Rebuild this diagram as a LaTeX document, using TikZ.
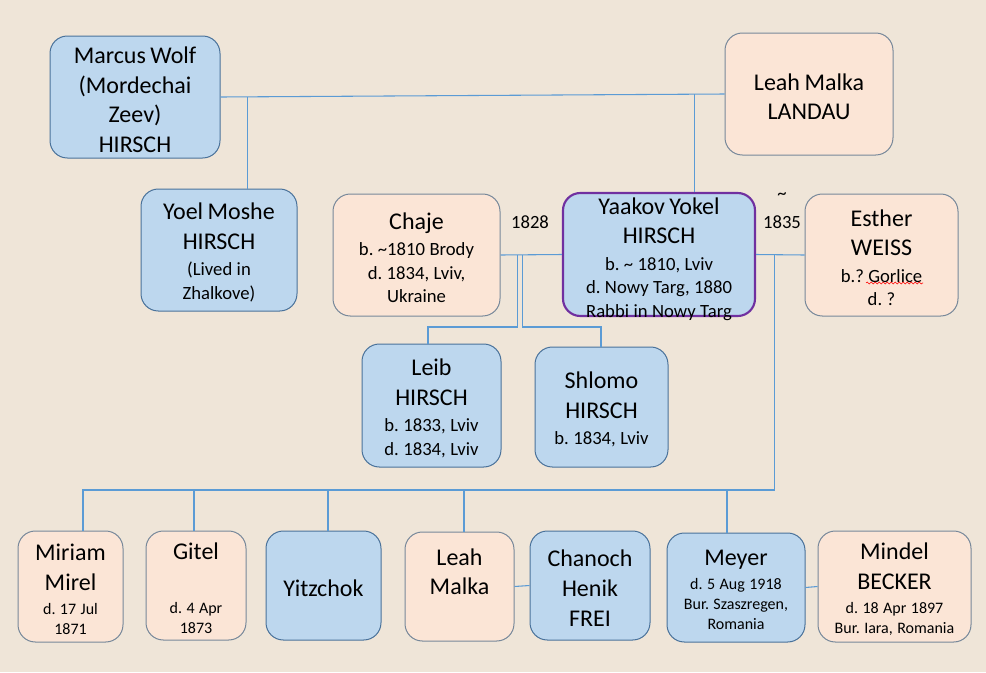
\documentclass[tikz,border=0pt]{standalone}
\usepackage{fontspec}
\setmainfont{Carlito}
\usetikzlibrary{fit,calc,decorations.pathmorphing}
\definecolor{bg}{HTML}{EFE5D8}
\definecolor{bluefill}{HTML}{BDD7EE}
\definecolor{blueedge}{HTML}{4A729A}
\definecolor{peachfill}{HTML}{FBE5D6}
\definecolor{peachedge}{HTML}{77889A}
\definecolor{purpleedge}{HTML}{7030A0}
\definecolor{linkc}{HTML}{5B9BD5}
\newcommand\NM{\fontsize{18}{22.2}\selectfont}
\newcommand\SA{\fontsize{14}{19.8}\selectfont}
\newcommand\SB{\fontsize{14}{17.8}\selectfont}
\newcommand\TA{\fontsize{12}{18}\selectfont}
\newcommand\TB{\fontsize{12}{15}\selectfont}
\frenchspacing
\begin{document}
\begin{tikzpicture}[x=0.75pt,y=-0.75pt,
  person/.style={rounded corners=13pt, inner sep=0pt, line width=0.75pt},
  bluebox/.style={person, fill=bluefill, draw=blueedge},
  peachbox/.style={person, fill=peachfill, draw=peachedge},
  keybox/.style={person, fill=bluefill, draw=purpleedge, line width=1.6pt},
  txt/.style={align=center, inner sep=0pt, text width=135pt, yshift=-2pt, execute at begin node={\parindent=0pt\frenchspacing}},
  lbl/.style={inner sep=0pt, font=\SB},
  link/.style={draw=linkc, line width=0.8pt}]
\path[use as bounding box, fill=bg] (0,0) rectangle (986,672);

% boxes
\node[bluebox, fit={(50,36) (220,158)}] (marcus) {};
\node[peachbox, fit={(725,33) (893,155)}] (landau) {};
\node[bluebox, fit={(141,189) (297,311)}] (yoel) {};
\node[peachbox, fit={(333,194) (500,316)}] (chaje) {};
\node[keybox, fit={(563,193) (755,316)}] (yaakov) {};
\node[peachbox, fit={(805,194) (958,316)}] (esther) {};
\node[bluebox, fit={(362,344) (501,467)}] (leib) {};
\node[bluebox, fit={(535,347) (668,467)}] (shlomo) {};
\node[peachbox, fit={(18,531) (123,642)}] (miriam) {};
\node[peachbox, fit={(146,531) (246,640)}] (gitel) {};
\node[bluebox, fit={(266,531) (381,640)}] (yitz) {};
\node[peachbox, fit={(405,532) (514,641)}] (leah) {};
\node[bluebox, fit={(530,531) (650,640)}] (chanoch) {};
\node[bluebox, fit={(667,533) (805,642)}] (meyer) {};
\node[peachbox, fit={(818,531) (971,642)}] (mindel) {};

% connectors
\coordinate (mw) at ($(marcus.east)!0.053!(landau.west)$);
\coordinate (ll) at ($(marcus.east)!0.941!(landau.west)$);
\draw[link] (marcus.east) -- (landau.west);
\draw[link] (mw) -- (mw |- yoel.north);
\draw[link] (ll) -- (ll |- yaakov.north);

\draw[link] (chaje.east) -- (yaakov.west);
\coordinate (c1) at ($(chaje.east)!0.27!(yaakov.west)$);
\coordinate (c2) at ($(chaje.east)!0.365!(yaakov.west)$);
\coordinate (lb) at (428,327);
\coordinate (sb) at (601,327);
\draw[link] (c1) |- (lb) -- (lb |- leib.north);
\draw[link] (c2) |- (sb) -- (sb |- shlomo.north);

\draw[link] (yaakov.east) -- (esther.west);
\coordinate (c3) at ($(yaakov.east)!0.38!(esther.west)$);
\coordinate (kb) at (83,490);
\coordinate (gd) at (194,490);
\coordinate (yd) at (328,490);
\coordinate (ld) at (464,490);
\coordinate (md) at (727,490);
\draw[link] (c3) |- (kb) -- (kb |- miriam.north);
\draw[link] (gd) -- (gd |- gitel.north);
\draw[link] (yd) -- (yd |- yitz.north);
\draw[link] (ld) -- (ld |- leah.north);
\draw[link] (md) -- (md |- meyer.north);
\draw[link] (leah.east) -- (chanoch.west);
\draw[link] (meyer.east) -- (mindel.west);

% texts
\node[txt] (marcus-t) at (marcus.center) {\NM Marcus Wolf\par\NM (Mordechai\par\NM Zeev)\par\NM HIRSCH\par};
\node[txt] (landau-t) at (landau.center) {\NM Leah Malka\par\NM LANDAU\par};
\node[txt] (yoel-t) at (yoel.center) {\NM Yoel Moshe\par\NM HIRSCH\par\SA (Lived in\par\SB Zhalkove)\par};
\node[txt] (chaje-t) at (chaje.center) {\NM Chaje\par\SA b. \textasciitilde1810 Brody\par\SB d. 1834, Lviv,\par\SB Ukraine\par};
\node[txt, yshift=-1.5pt] (yaakov-t) at (yaakov.center) {\NM Yaakov Yokel\par\NM HIRSCH\par\SA b. \textasciitilde\ 1810, Lviv\par\SB d. Nowy Targ, 1880\par\SB Rabbi in Nowy Targ\par};
\node[txt] (esther-t) at (esther.center) {\NM Esther\par\NM WEISS\par\SA b.? Gorlice\par\SB d. ?\par};
\node[txt] (leib-t) at (leib.center) {\NM Leib\par\NM HIRSCH\par\SA b. 1833, Lviv\par\SB d. 1834, Lviv\par};
\node[txt] (shlomo-t) at (shlomo.center) {\NM Shlomo\par\NM HIRSCH\par\SA b. 1834, Lviv\par};
\node[txt] (miriam-t) at (miriam.center) {\NM Miriam\par\NM Mirel\par\TA d. 17 Jul\par\TB 1871\par};
\node[txt] (gitel-t) at (gitel.center) {\NM Gitel\par\NM\mbox{}\par\TA d. 4 Apr\par\TB 1873\par};
\node[txt] (yitz-t) at (yitz.center) {\NM Yitzchok\par};
\node[txt, yshift=2pt] (leah-t) at (leah.center) {\NM Leah\par\NM Malka\par\NM\mbox{}\par};
\node[txt] (chanoch-t) at (chanoch.center) {\NM Chanoch\par\NM Henik\par\NM FREI\par};
\node[txt] (meyer-t) at (meyer.center) {\NM Meyer\par\TA d. 5 Aug 1918\par\TB Bur. Szaszregen,\par\TB Romania\par};
\node[txt] (mindel-t) at (mindel.center) {\NM Mindel\par\NM BECKER\par\TA d. 18 Apr 1897\par\TB Bur. Iara, Romania\par};

% year labels
\node[lbl] (y1828) at (530,222) {1828};
\node[lbl] (y1835) at (782,222) {1835};
\node[lbl] (tilde) at (782,196) {\textasciitilde};

% spell-check underline
\draw[red, decorate, decoration={snake, segment length=3pt, amplitude=0.7pt}] (866,283) -- (923,283);
\end{tikzpicture}
\end{document}
